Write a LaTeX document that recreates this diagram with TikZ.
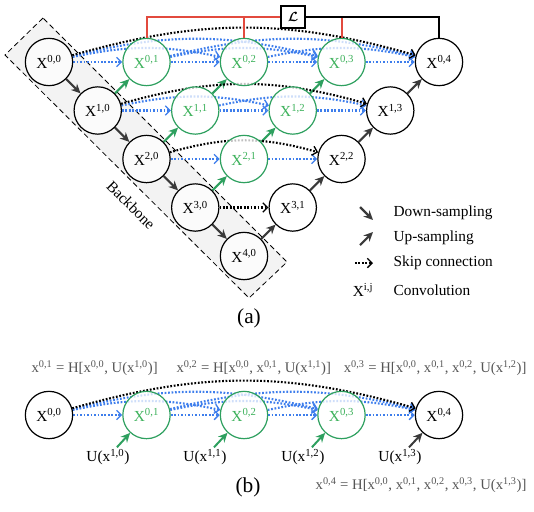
\documentclass[tikz,border=0pt]{standalone}
\usepackage{amsmath}
\usepackage{fontspec}
\setmainfont{Liberation Serif}
\usepackage{xcolor}
\usepackage{tikz}
\usetikzlibrary{arrows.meta,calc,backgrounds}
\definecolor{netgreen}{RGB}{46,160,95}
\definecolor{txtgreen}{RGB}{62,178,92}
\definecolor{lossred}{RGB}{226,74,62}
\definecolor{skipblue}{RGB}{62,126,236}
\definecolor{arrgray}{RGB}{58,58,58}
\definecolor{bbgray}{RGB}{243,243,243}
\definecolor{eqgray}{RGB}{85,85,85}
\newcommand{\Xn}[1]{X\textsuperscript{#1}}
\newcommand{\xn}[1]{x\textsuperscript{#1}}

\begin{document}
\begin{tikzpicture}[x=0.75pt,y=-0.75pt,
	conv/.style={circle,draw,line width=0.9pt,minimum size=35.5pt,inner sep=0pt,fill=white,fill opacity=0.75,text opacity=1,font=\fontsize{11.5}{13}\selectfont},
	gconv/.style={conv,draw=netgreen,text=txtgreen},
	down/.style={-{Stealth[length=7pt,width=6.5pt]},line width=1.5pt,arrgray},
	gup/.style={down,netgreen},
	skip/.style={-{Straight Barb[length=3.5pt,width=7pt,line width=1pt]},line width=1.6pt,dash pattern=on 1.3pt off 1.3pt,skipblue},
	longskip/.style={skip,black},
	lossline/.style={lossred,line width=1.5pt},
	txt/.style={font=\fontsize{11.5}{14}\selectfont,inner sep=1pt},
	eqtxt/.style={font=\fontsize{11}{13}\selectfont,inner sep=1pt,eqgray},
	captxt/.style={font=\fontsize{16}{18}\selectfont}]
		\useasboundingbox (0,0) rectangle (534,511);
		\node[conv] (x00) at (49,62) {\Xn{0,0}};
		\node[conv] (x10) at (97.75,110.5) {\Xn{1,0}};
		\node[conv] (x20) at (146.5,159) {\Xn{2,0}};
		\node[conv] (x30) at (195.25,207.5) {\Xn{3,0}};
		\node[conv] (x40) at (244,256) {\Xn{4,0}};
		\node[gconv] (x01) at (146.5,62) {\Xn{0,1}};
		\node[gconv] (x11) at (195.25,110.5) {\Xn{1,1}};
		\node[gconv] (x21) at (244,159) {\Xn{2,1}};
		\node[conv] (x31) at (292.75,207.5) {\Xn{3,1}};
		\node[gconv] (x02) at (244,62) {\Xn{0,2}};
		\node[gconv] (x12) at (292.75,110.5) {\Xn{1,2}};
		\node[conv] (x22) at (341.5,159) {\Xn{2,2}};
		\node[gconv] (x03) at (341.5,62) {\Xn{0,3}};
		\node[conv] (x13) at (390.25,110.5) {\Xn{1,3}};
		\node[conv] (x04) at (439,62) {\Xn{0,4}};
		\node[draw,line width=1.3pt,minimum width=18pt,minimum height=16.5pt,inner sep=0pt] (loss) at (293,17) {$\boldsymbol{\mathcal{L}}$};
		\draw[lossline] (x01.north) |- (loss.west);
		\draw[lossline] (x02.north) -- (x02.north |- loss.west);
		\draw[lossline] (x03.north) -- (x03.north |- loss.east);
		\draw[line width=1.5pt] (loss.east) -| (x04.north);
		\node[txt,rotate=-45] (bb) at (131,205) {Backbone};
		\node[captxt] (capa) at (249,318) {(a)};
		\coordinate (ld1) at (360,207);
		\coordinate (ld2) at (373,220);
		\coordinate (lu1) at (360,245);
		\coordinate (lu2) at (373,232);
		\coordinate (ls1) at (355,263);
		\coordinate (ls2) at (373,263);
		\draw[down,line width=1.6pt] (ld1) -- (ld2);
		\draw[down,line width=1.6pt] (lu1) -- (lu2);
		\draw[longskip] (ls1) -- (ls2);
		\node[txt] (lconv) at (363,290) {\Xn{i,j}};
		\node[txt,anchor=west] (ldown) at (392,213) {Down-sampling};
		\node[txt,anchor=west] (lup) at (392,238) {Up-sampling};
		\node[txt,anchor=west] (lskip) at (392,263) {Skip connection};
		\node[txt,anchor=west] (lconvt) at (392,290) {Convolution};
		\node[conv] (b00) at (49,415) {\Xn{0,0}};
		\node[gconv] (b01) at (146.5,415) {\Xn{0,1}};
		\node[gconv] (b02) at (244,415) {\Xn{0,2}};
		\node[gconv] (b03) at (341.5,415) {\Xn{0,3}};
		\node[conv] (b04) at (439,415) {\Xn{0,4}};
		\node[txt] (u10) at (108,457) {U(\xn{1,0})};
		\node[txt] (u11) at (205,457) {U(\xn{1,1})};
		\node[txt] (u12) at (303,457) {U(\xn{1,2})};
		\node[txt] (u13) at (400,457) {U(\xn{1,3})};
		\node[eqtxt,anchor=west] (eq1) at (30,368) {\xn{0,1} = H[\xn{0,0}, U(\xn{1,0})]};
		\node[eqtxt,anchor=west] (eq2) at (175,368) {\xn{0,2} = H[\xn{0,0}, \xn{0,1}, U(\xn{1,1})]};
		\node[eqtxt,anchor=east] (eq3) at (528,368) {\xn{0,3} = H[\xn{0,0}, \xn{0,1}, \xn{0,2}, U(\xn{1,2})]};
		\node[eqtxt,anchor=east] (eq4) at (528,485) {\xn{0,4} = H[\xn{0,0}, \xn{0,1}, \xn{0,2}, \xn{0,3}, U(\xn{1,3})]};
		\node[captxt] (capb) at (248,487) {(b)};
		\begin{scope}[on background layer]
		\draw[dashed,dash pattern=on 4pt off 2.5pt,line width=0.6pt,fill=bbgray] (43,18) -- (5,55) -- (249,298) -- (287,262) -- cycle;
		\draw[down] (x00) -- (x10);
		\draw[down] (x10) -- (x20);
		\draw[down] (x20) -- (x30);
		\draw[down] (x30) -- (x40);
		\draw[gup] (x10) -- (x01);
		\draw[gup] (x20) -- (x11);
		\draw[gup] (x11) -- (x02);
		\draw[gup] (x30) -- (x21);
		\draw[gup] (x21) -- (x12);
		\draw[gup] (x12) -- (x03);
		\draw[down] (x40) -- (x31);
		\draw[down] (x31) -- (x22);
		\draw[down] (x22) -- (x13);
		\draw[down] (x13) -- (x04);
		\draw[skip,bend left=12] (x00) to (x02);
		\draw[skip,bend left=12] (x01) to (x03);
		\draw[skip,bend left=12] (x02) to (x04);
		\draw[skip,bend left=14] (x00) to (x03);
		\draw[skip,bend left=14] (x01) to (x04);
		\draw[skip] (x00) -- (x01);
		\draw[skip] (x01) -- (x02);
		\draw[skip] (x02) -- (x03);
		\draw[skip] (x03) -- (x04);
		\draw[longskip,bend left=16] (x00) to (x04);
		\draw[skip,bend left=12] (x10) to (x12);
		\draw[skip,bend left=12] (x11) to (x13);
		\draw[skip] (x10) -- (x11);
		\draw[skip] (x11) -- (x12);
		\draw[skip] (x12) -- (x13);
		\draw[longskip,bend left=16] (x10) to (x13);
		\draw[skip] (x20) -- (x21);
		\draw[skip] (x21) -- (x22);
		\draw[longskip,bend left=16] (x20) to (x22);
		\draw[longskip] (x30) -- (x31);
		\draw[skip,bend left=12] (b00) to (b02);
		\draw[skip,bend left=12] (b01) to (b03);
		\draw[skip,bend left=12] (b02) to (b04);
		\draw[skip,bend left=14] (b00) to (b03);
		\draw[skip,bend left=14] (b01) to (b04);
		\draw[skip] (b00) -- (b01);
		\draw[skip] (b01) -- (b02);
		\draw[skip] (b02) -- (b03);
		\draw[skip] (b03) -- (b04);
		\draw[longskip,bend left=16] (b00) to (b04);
		\draw[gup] (u10) -- (b01);
		\draw[gup] (u11) -- (b02);
		\draw[gup] (u12) -- (b03);
		\draw[down] (u13) -- (b04);
		\end{scope}
	\end{tikzpicture}
\end{document}
